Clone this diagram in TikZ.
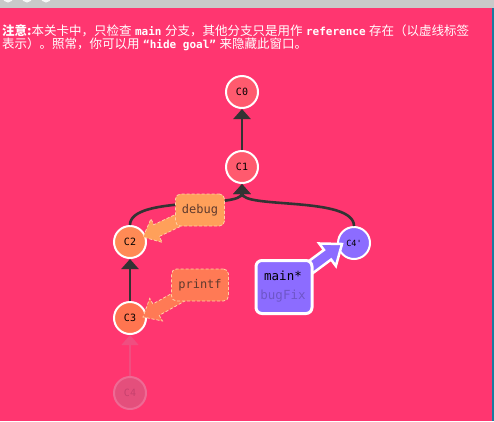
\documentclass[tikz,border=0pt]{standalone}
\usepackage{fontspec}
\newfontfamily\cjk{Noto Sans CJK SC}
\newfontfamily\monof{DejaVu Sans Mono}
\usetikzlibrary{arrows.meta,calc}
\definecolor{bg}{HTML}{FF3670}
\definecolor{topbar}{HTML}{C9C9C9}
\definecolor{stripe}{HTML}{1A7AA0}
\definecolor{cRed}{HTML}{FF5A6E}
\definecolor{cOrange}{HTML}{FF8A55}
\definecolor{cCoral}{HTML}{FF7550}
\definecolor{cDebug}{HTML}{FFA05A}
\definecolor{cPrintf}{HTML}{FF7A55}
\definecolor{lblBorder}{HTML}{FFD0A8}
\definecolor{lblText}{HTML}{5E3A2E}
\definecolor{cPurple}{HTML}{8C6CFF}
\definecolor{cBugfix}{HTML}{6E56C8}
\definecolor{fadeFill}{HTML}{E44F7C}
\definecolor{fadeDraw}{HTML}{EE6A94}
\definecolor{fadeLine}{HTML}{F04E80}
\definecolor{fadeText}{HTML}{C7416E}
\definecolor{edgeCol}{HTML}{333333}
\pgfdeclarelayer{back}
\pgfdeclarelayer{mid}
\pgfsetlayers{back,mid,main}
\newcommand\blockarr[6]{%
  \path ($(#3)!#6!(#2)$) coordinate (nk);
  \draw[#1] ($(#2)!#4!90:(#3)$) -- ($(nk)!#4!-90:(#2)$) -- ($(nk)!#5!-90:(#2)$)
    -- (#3) -- ($(nk)!#5!90:(#2)$) -- ($(nk)!#4!90:(#2)$) -- ($(#2)!#4!-90:(#3)$) -- cycle;
}
\newcommand\mt[1]{\hspace{3.5pt}{\monof\bfseries\fontsize{11}{13.5}\selectfont #1}\hspace{3.5pt}}
\tikzset{
  commit/.style={circle, draw=white, line width=2pt, minimum size=32pt, inner sep=0pt,
    font=\monof\fontsize{10}{10}\selectfont, text=black},
  faded/.style={fill=fadeFill, draw=fadeDraw, text=fadeText},
  edge/.style={draw=edgeCol, line width=2.6pt, -{Triangle[width=17pt,length=10pt]}},
  fadededge/.style={draw=fadeLine, line width=1.5pt, -{Triangle[width=17pt,length=10pt]}},
  lbl/.style={rounded corners=5pt, draw=lblBorder, dash pattern=on 3pt off 2pt, line width=0.8pt,
    minimum height=32pt, inner sep=0pt, font=\monof\fontsize{12}{12}\selectfont, text=lblText},
  lblarrow/.style={draw=lblBorder, dash pattern=on 3pt off 2pt, line width=0.8pt},
}
\begin{document}
\begin{tikzpicture}[x=1pt,y=-1pt]
\useasboundingbox (0,0) rectangle (494,421);
\begin{pgfonlayer}{back}
\fill[bg] (0,0) rectangle (494,421);
\fill[topbar] (0,0) rectangle (494,8);
\begin{scope}
\clip (0,0) rectangle (494,8);
\fill[white!94!gray] (8,-3) circle (5.5);
\fill[white!94!gray] (27,-3) circle (5.5);
\fill[white!94!gray] (46,-3) circle (5.5);
\end{scope}
\fill[stripe] (491.5,8) rectangle (494,421);

\node[commit, fill=cRed] (C0) at (242,92) {C0};
\node[commit, fill=cRed] (C1) at (242,167) {C1};
\node[commit, fill=cOrange] (C2) at (130,242) {C2};
\node[commit, fill=cCoral] (C3) at (130,318) {C3};
\node[commit, faded] (C4) at (130,393) {C4};
\node[commit, fill=cPurple, font=\monof\fontsize{8.5}{8.5}\selectfont] (C4p) at (354,243) {C4'};

\draw[edge] (C1.north) -- (C0.south);
\draw[edge] (C2.north) .. controls +(0,-30) and +(0,25) .. (C1.south);
\draw[edge] (C4p.north) .. controls +(0,-30) and +(0,25) .. (C1.south);
\draw[edge] (C3.north) -- (C2.south);
\draw[fadededge] (C4.north) -- (C3.south);
\end{pgfonlayer}

\node[lbl, fill=cDebug, minimum width=49pt] (debug) at (200,210) {debug};
\node[lbl, fill=cPrintf, minimum width=57pt] (printf) at (200,285) {printf};
\node[rounded corners=6pt, draw=white, line width=3pt, fill=cPurple, minimum width=56pt,
  minimum height=53pt, inner sep=0pt] (mainbox) at (284,287) {};
\node[font=\monof\fontsize{12.5}{12.5}\selectfont, text=black] (mainlbl) at (283,276) {main*};
\node[font=\monof\fontsize{12.5}{12.5}\selectfont, text=cBugfix] (buglbl) at (283,296) {bugFix};

\begin{pgfonlayer}{mid}
\coordinate (tipD) at ($(C2)+(13,-5)$);
\coordinate (tipP) at ($(C3)+(13,-1)$);
\coordinate (tipM) at ($(C4p)+(-12,1)$);
\blockarr{lblarrow, fill=cDebug}{debug}{tipD}{6.5pt}{13pt}{15pt}
\blockarr{lblarrow, fill=cPrintf}{printf}{tipP}{6.5pt}{13pt}{15pt}
\blockarr{draw=white, line width=2.5pt, line join=miter, fill=cPurple}{mainbox}{tipM}{6pt}{14pt}{18pt}
\end{pgfonlayer}

\node[anchor=base west, align=left, text=white, inner sep=0pt,
  font=\cjk\fontsize{12.5}{13.5}\selectfont] (note) at (2,48.5)
  {{\bfseries 注意:}本关卡中，只检查\mt{main}分支，其他分支只是用作\mt{reference}存在（以虚线标签\\
   表示）。照常，你可以用\mt{“hide goal”}来隐藏此窗口。};
\end{tikzpicture}
\end{document}
